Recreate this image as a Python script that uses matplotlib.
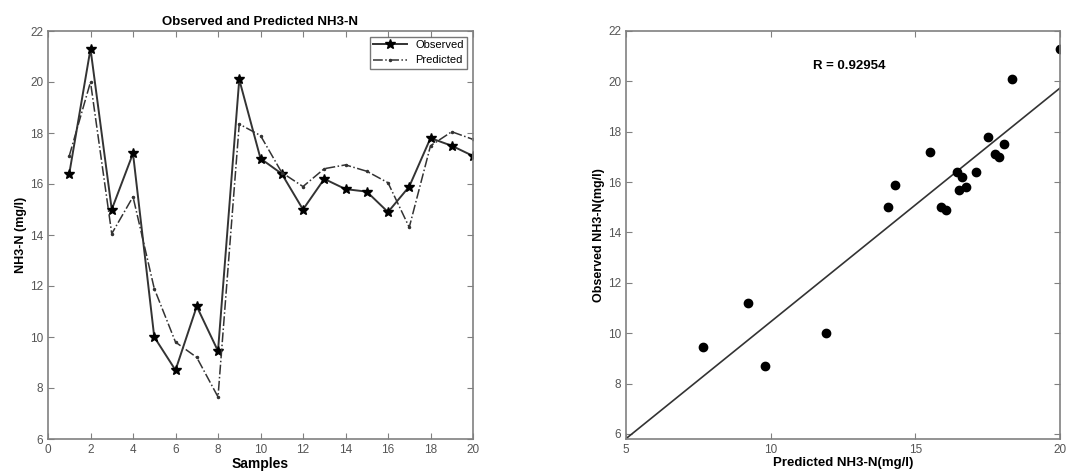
import numpy as np
import matplotlib
matplotlib.use("Agg")
import matplotlib.pyplot as plt

plt.rcParams['font.family'] = ['Liberation Sans', 'DejaVu Sans']

samples = np.arange(1, 21)
observed = [16.4, 21.3, 15.0, 17.2, 10.0, 8.7, 11.2, 9.45, 20.1, 17.0,
            16.4, 15.0, 16.2, 15.8, 15.7, 14.9, 15.9, 17.8, 17.5, 17.1]
predicted = [17.1, 20.0, 14.05, 15.5, 11.9, 9.8, 9.2, 7.65, 18.35, 17.9,
             16.45, 15.9, 16.6, 16.75, 16.5, 16.05, 14.3, 17.5, 18.05, 17.75]
r_text = "R = 0.92954"

axis_col = '#808080'


def style(ax):
    for s in ax.spines.values():
        s.set_color(axis_col)
        s.set_linewidth(1.2)
    ax.tick_params(direction='in', top=True, right=True, colors=axis_col,
                   labelcolor='#555555', labelsize=8.5, length=4)


fig = plt.figure(figsize=(10.69, 4.74), dpi=100)
ax1 = fig.add_axes([48 / 1069, 35 / 474, 425 / 1069, 408 / 474])
ax2 = fig.add_axes([626 / 1069, 35 / 474, 434 / 1069, 408 / 474])

# left: time series
ax1.plot(samples, observed, '-', color='#333333', lw=1.4, marker='*',
         ms=7, mfc='black', mec='black', label='Observed')
ax1.plot(samples, predicted, '-.', color='#333333', lw=1.1, marker='.',
         ms=3, label='Predicted')
ax1.set_xlim(0, 20)
ax1.set_ylim(6, 22)
ax1.set_xticks(range(0, 21, 2))
ax1.set_yticks(range(6, 23, 2))
ax1.set_title("Observed and Predicted NH3-N", fontsize=9.5, fontweight='bold', pad=4)
ax1.set_xlabel("Samples", fontsize=10, fontweight='bold', labelpad=1)
ax1.set_ylabel("NH3-N (mg/l)", fontsize=9, fontweight='bold', labelpad=2)
leg = ax1.legend(loc='upper right', fontsize=8, frameon=True, fancybox=False,
                 borderpad=0.3, handlelength=3)
leg.get_frame().set_edgecolor('#555555')
style(ax1)

# right: scatter with fit
slope, intercept = np.polyfit(predicted, observed, 1)
xl = np.array([5, 20])
ax2.plot(xl, slope * xl + intercept, '-', color='#333333', lw=1.2)
ax2.plot(predicted, observed, 'o', color='black', ms=6)
ax2.text(12.7, 20.6, r_text, fontsize=9.5, fontweight='bold', ha='center', va='center')
ax2.set_xlim(5, 20)
ax2.set_ylim(5.8, 22)
ax2.set_xticks([5, 10, 15, 20])
ax2.set_yticks(range(6, 23, 2))
ax2.set_xlabel("Predicted NH3-N(mg/l)", fontsize=9.5, fontweight='bold', labelpad=1)
ax2.set_ylabel("Observed NH3-N(mg/l)", fontsize=9, fontweight='bold', labelpad=2)
style(ax2)

fig.savefig("out.png", dpi=100)
